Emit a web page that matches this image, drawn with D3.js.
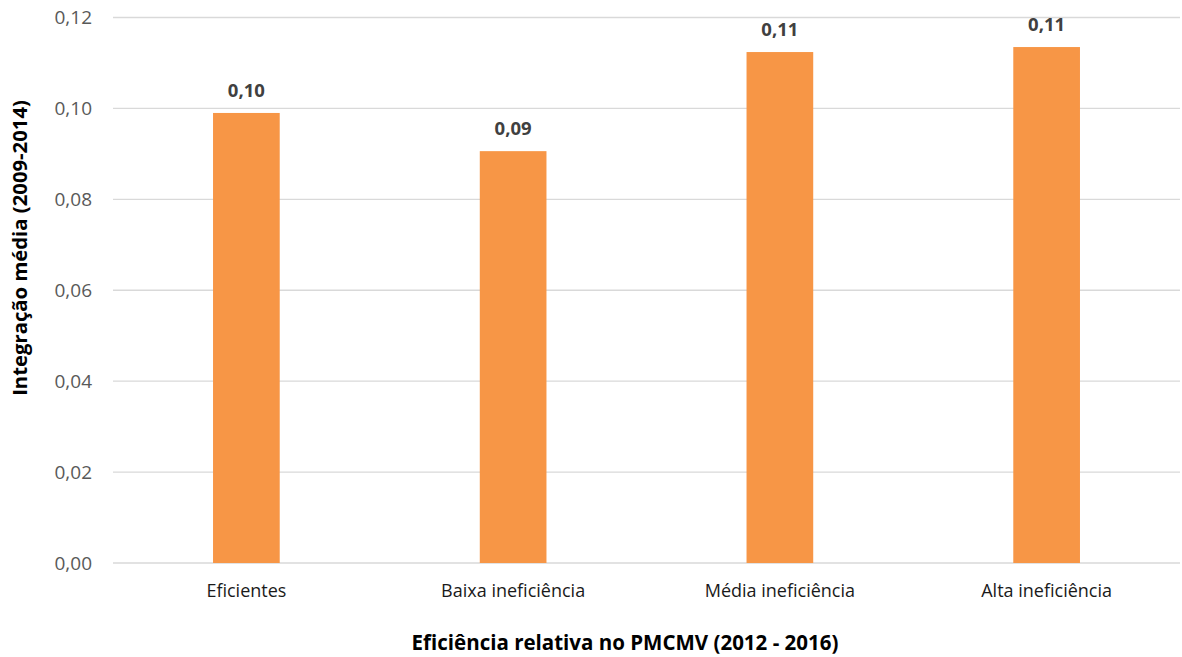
<!DOCTYPE html>
<html>
<head>
<meta charset="utf-8">
<script src="https://cdn.jsdelivr.net/npm/d3@7"></script>
<style>
  html, body { margin: 0; padding: 0; background: #fff; }
  svg { display: block; font-family: "Open Sans", sans-serif; }
</style>
</head>
<body>
<svg id="chart" width="1182" height="657"></svg>
<script>
// Categories and mean integration values per efficiency group
const categories = ["Eficientes", "Baixa ineficiência", "Média ineficiência", "Alta ineficiência"];
const values = [0.0990, 0.0906, 0.1124, 0.1135];
const yTicks = [0, 0.02, 0.04, 0.06, 0.08, 0.10, 0.12];
const yTitle = "Integração média (2009-2014)";
const xTitle = "Eficiência relativa no PMCMV (2012 - 2016)";

const W = 1182, H = 657;
const margin = { top: 17.5, right: 2, bottom: 94, left: 113 };
const svg = d3.select("#chart");

const fmt = v => d3.format(".2f")(v).replace(".", ",");

const x = d3.scaleBand()
  .domain(categories)
  .range([margin.left, W - margin.right])
  .padding(0);

const y = d3.scaleLinear()
  .domain([0, 0.12])
  .range([H - margin.bottom, margin.top]);

// Horizontal gridlines
svg.append("g")
  .selectAll("line")
  .data(yTicks)
  .join("line")
  .attr("x1", margin.left)
  .attr("x2", W - margin.right)
  .attr("y1", d => y(d))
  .attr("y2", d => y(d))
  .attr("stroke", "#d9d9d9")
  .attr("stroke-width", 1.3);

// Y axis tick labels
const yAxis = svg.append("g")
  .attr("transform", `translate(${margin.left - 21},0)`)
  .call(d3.axisLeft(y).tickValues(yTicks).tickFormat(fmt).tickSize(0).tickPadding(0));
yAxis.select(".domain").remove();
yAxis.selectAll("text")
  .attr("fill", "#595959")
  .style("font-size", "19px")
  .style("font-family", "'Open Sans', sans-serif");

// Bars
const barW = x.bandwidth() * 0.25;
svg.append("g")
  .selectAll("rect")
  .data(values)
  .join("rect")
  .attr("x", (d, i) => x(categories[i]) + x.bandwidth() / 2 - barW / 2)
  .attr("y", d => y(d))
  .attr("width", barW)
  .attr("height", d => y(0) - y(d))
  .attr("fill", "#f79646");

// Value labels
svg.append("g")
  .selectAll("text")
  .data(values)
  .join("text")
  .attr("x", (d, i) => x(categories[i]) + x.bandwidth() / 2)
  .attr("y", d => y(d) - 16)
  .attr("text-anchor", "middle")
  .attr("fill", "#404040")
  .style("font-size", "18.5px")
  .style("font-weight", "bold")
  .text(d => fmt(d));

// X axis category labels
const xAxis = svg.append("g")
  .attr("transform", `translate(0,${y(0)})`)
  .call(d3.axisBottom(x).tickSize(0).tickPadding(21));
xAxis.select(".domain").remove();
xAxis.selectAll("text")
  .attr("fill", "#1a1a1a")
  .style("font-size", "18px")
  .style("font-family", "'Open Sans', sans-serif");

// Axis titles
svg.append("text")
  .attr("x", 625)
  .attr("y", 650)
  .attr("text-anchor", "middle")
  .attr("fill", "#000")
  .style("font-size", "20.5px")
  .style("font-weight", "bold")
  .text(xTitle);

svg.append("text")
  .attr("transform", "translate(27,248) rotate(-90)")
  .attr("text-anchor", "middle")
  .attr("fill", "#000")
  .style("font-size", "20.3px")
  .style("font-weight", "bold")
  .text(yTitle);
</script>
</body>
</html>
